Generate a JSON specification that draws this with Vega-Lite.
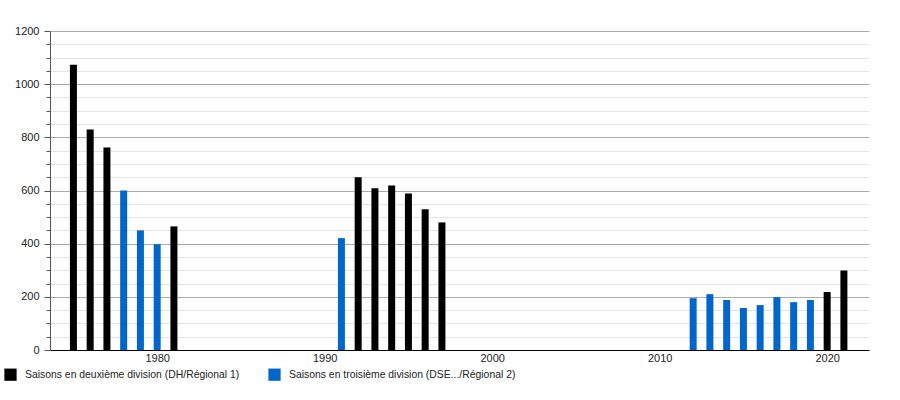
{
  "$schema": "https://vega.github.io/schema/vega-lite/v6.json",
  "autosize": "none",
  "width": 819,
  "height": 319,
  "padding": {"left": 50, "top": 31, "right": 31, "bottom": 50},
  "background": "white",
  "config": {
    "font": "Liberation Sans",
    "view": {"stroke": null}
  },
  "data": {
    "values": [
      {"annee": 1975, "spectateurs": 1073, "division": "Saisons en deuxième division (DH/Régional 1)"},
      {"annee": 1976, "spectateurs": 829, "division": "Saisons en deuxième division (DH/Régional 1)"},
      {"annee": 1977, "spectateurs": 762, "division": "Saisons en deuxième division (DH/Régional 1)"},
      {"annee": 1978, "spectateurs": 600, "division": "Saisons en troisième division (DSE.../Régional 2)"},
      {"annee": 1979, "spectateurs": 450, "division": "Saisons en troisième division (DSE.../Régional 2)"},
      {"annee": 1980, "spectateurs": 398, "division": "Saisons en troisième division (DSE.../Régional 2)"},
      {"annee": 1981, "spectateurs": 465, "division": "Saisons en deuxième division (DH/Régional 1)"},
      {"annee": 1991, "spectateurs": 421, "division": "Saisons en troisième division (DSE.../Régional 2)"},
      {"annee": 1992, "spectateurs": 650, "division": "Saisons en deuxième division (DH/Régional 1)"},
      {"annee": 1993, "spectateurs": 608, "division": "Saisons en deuxième division (DH/Régional 1)"},
      {"annee": 1994, "spectateurs": 619, "division": "Saisons en deuxième division (DH/Régional 1)"},
      {"annee": 1995, "spectateurs": 589, "division": "Saisons en deuxième division (DH/Régional 1)"},
      {"annee": 1996, "spectateurs": 529, "division": "Saisons en deuxième division (DH/Régional 1)"},
      {"annee": 1997, "spectateurs": 480, "division": "Saisons en deuxième division (DH/Régional 1)"},
      {"annee": 2012, "spectateurs": 195, "division": "Saisons en troisième division (DSE.../Régional 2)"},
      {"annee": 2013, "spectateurs": 210, "division": "Saisons en troisième division (DSE.../Régional 2)"},
      {"annee": 2014, "spectateurs": 188, "division": "Saisons en troisième division (DSE.../Régional 2)"},
      {"annee": 2015, "spectateurs": 158, "division": "Saisons en troisième division (DSE.../Régional 2)"},
      {"annee": 2016, "spectateurs": 169, "division": "Saisons en troisième division (DSE.../Régional 2)"},
      {"annee": 2017, "spectateurs": 199, "division": "Saisons en troisième division (DSE.../Régional 2)"},
      {"annee": 2018, "spectateurs": 180, "division": "Saisons en troisième division (DSE.../Régional 2)"},
      {"annee": 2019, "spectateurs": 188, "division": "Saisons en troisième division (DSE.../Régional 2)"},
      {"annee": 2020, "spectateurs": 218, "division": "Saisons en deuxième division (DH/Régional 1)"},
      {"annee": 2021, "spectateurs": 299, "division": "Saisons en deuxième division (DH/Régional 1)"}
    ]
  },
  "mark": {"type": "bar", "size": 7},
  "encoding": {
    "x": {
      "field": "annee",
      "type": "quantitative",
      "scale": {"domain": [1973.9, 2022.2], "nice": false, "zero": false},
      "axis": {
        "title": null,
        "values": [1980, 1990, 2000, 2010, 2020],
        "format": "d",
        "grid": false,
        "ticks": false,
        "domainColor": "#000000",
        "domainWidth": 1,
        "labelFontSize": 11,
        "labelColor": "#222222",
        "labelPadding": 2
      }
    },
    "y": {
      "field": "spectateurs",
      "type": "quantitative",
      "scale": {"domain": [0, 1200], "nice": false},
      "axis": {
        "title": null,
        "values": [0, 50, 100, 150, 200, 250, 300, 350, 400, 450, 500, 550, 600, 650, 700, 750, 800, 850, 900, 950, 1000, 1050, 1100, 1150, 1200],
        "labelExpr": "datum.value % 200 === 0 ? format(datum.value, 'd') : ''",
        "grid": true,
        "gridColor": {"condition": {"test": "datum.value % 200 === 0", "value": "#aaaaaa"}, "value": "#e4e4e4"},
        "gridWidth": 1,
        "tickColor": "#555555",
        "tickSize": {"condition": {"test": "datum.value % 200 === 0", "value": 6}, "value": 4},
        "domainColor": "#555555",
        "labelFontSize": 11,
        "labelColor": "#222222",
        "labelPadding": 5
      }
    },
    "color": {
      "field": "division",
      "type": "nominal",
      "scale": {
        "domain": ["Saisons en deuxième division (DH/Régional 1)", "Saisons en troisième division (DSE.../Régional 2)"],
        "range": ["#000000", "#0066cc"]
      },
      "legend": {
        "title": null,
        "orient": "none",
        "legendX": -46,
        "legendY": 337,
        "direction": "horizontal",
        "columns": 2,
        "columnPadding": 28,
        "symbolType": "square",
        "symbolSize": 150,
        "symbolStrokeWidth": 0,
        "symbolOpacity": 1,
        "labelFontSize": 10.4,
        "labelColor": "#222222",
        "labelLimit": 400,
        "labelOffset": 8
      }
    }
  }
}
